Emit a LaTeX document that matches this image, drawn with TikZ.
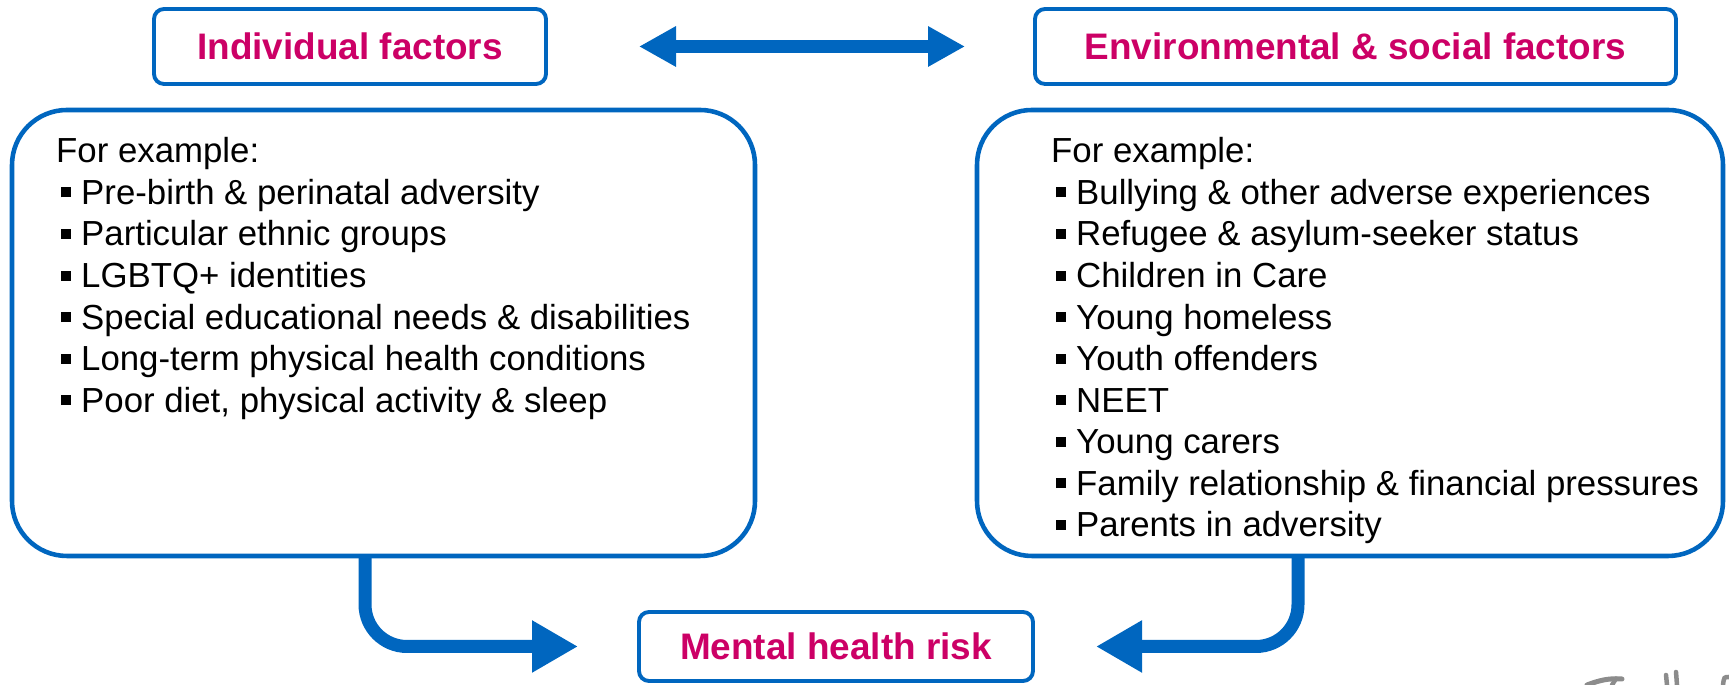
\documentclass[tikz,border=0pt]{standalone}
\usepackage{fontspec}
\setmainfont{Liberation Sans}
\usepackage{tikz}
\usetikzlibrary{arrows.meta, positioning, calc}
\definecolor{frameblue}{HTML}{0066BF}
\definecolor{titlemagenta}{HTML}{CC0066}
\definecolor{scribblegray}{HTML}{8C8C8C}
\newcommand{\sqitem}{\kern0.05cm\rule[0.07cm]{0.1cm}{0.1cm}\hspace{0.1cm}}

\begin{document}
\begin{tikzpicture}[
    titlebox/.style={draw=frameblue, line width=1.1pt, rounded corners=0.1cm, fill=white,
      minimum height=0.75cm, inner sep=0pt, outer sep=0pt, text=titlemagenta,
      font=\fontsize{10.5}{12.6}\selectfont\bfseries},
    listbox/.style={draw=frameblue, line width=1.3pt, rounded corners=0.55cm,
      minimum height=4.46cm, inner sep=0pt, outer sep=0pt},
    listtext/.style={anchor=north west, inner sep=0pt, align=left,
      font=\fontsize{9.9}{11.82}\selectfont},
    flowarrow/.style={frameblue, line width=0.13cm, rounded corners=0.42cm,
      -{Triangle[length=0.46cm, width=0.49cm]}}
  ]
  \useasboundingbox (0,0) rectangle (17.29,6.85);

  % Titles
  \node[titlebox, minimum width=3.92cm] (indiv) at (3.50, 6.385) {Individual factors};
  \node[titlebox, minimum width=6.41cm] (env) at (13.555, 6.385) {Environmental \& social factors};

  % Example boxes
  \node[listbox, minimum width=7.43cm] (indivbox) at (3.835, 3.52) {};
  \node[listbox, minimum width=7.46cm] (envbox) at (13.50, 3.52) {};

  \node[listtext] (indivlist) at (0.555, 5.48) {For example:\\
    \sqitem Pre-birth \& perinatal adversity\\
    \sqitem Particular ethnic groups\\
    \sqitem LGBTQ+ identities\\
    \sqitem Special educational needs \& disabilities\\
    \sqitem Long-term physical health conditions\\
    \sqitem Poor diet, physical activity \& sleep};

  \node[listtext] (envlist) at (10.505, 5.48) {For example:\\
    \sqitem Bullying \& other adverse experiences\\
    \sqitem Refugee \& asylum-seeker status\\
    \sqitem Children in Care\\
    \sqitem Young homeless\\
    \sqitem Youth offenders\\
    \sqitem NEET\\
    \sqitem Young carers\\
    \sqitem Family relationship \& financial pressures\\
    \sqitem Parents in adversity};

  % Outcome
  \node[titlebox, minimum width=3.94cm, minimum height=0.69cm] (risk) at (8.36, 0.385) {Mental health risk};

  % Two-way link between the titles
  \draw[frameblue, line width=0.13cm,
    {Triangle[length=0.37cm, width=0.38cm]}-{Triangle[length=0.37cm, width=0.38cm]},
    shorten <=0.93cm, shorten >=0.70cm] (indiv.east) -- (env.west);

  % Paths down to the risk
  \draw[flowarrow, shorten >=0.61cm] ([xshift=-0.185cm]indivbox.south) |- (risk.west);
  \draw[flowarrow, shorten >=0.63cm] ([xshift=-0.52cm]envbox.south) |- (risk.east);

  % Cut-off handwriting, bottom right
  \draw[scribblegray, line width=0.05cm, line cap=round]
    (15.87,0) .. controls (16.0,0.05) and (16.1,0.07) .. (16.22,0.06);
  \draw[scribblegray, line width=0.045cm, line cap=round] (16.16,0.065) -- (16.12,0);
  \draw[scribblegray, line width=0.045cm, line cap=round] (16.66,0.10) -- (16.67,0);
  \draw[scribblegray, line width=0.045cm, line cap=round] (16.76,0.13) -- (16.77,0);
  \draw[scribblegray, line width=0.045cm, line cap=round]
    (17.29,0.08) .. controls (17.24,0.08) .. (17.23,0);
\end{tikzpicture}
\end{document}
